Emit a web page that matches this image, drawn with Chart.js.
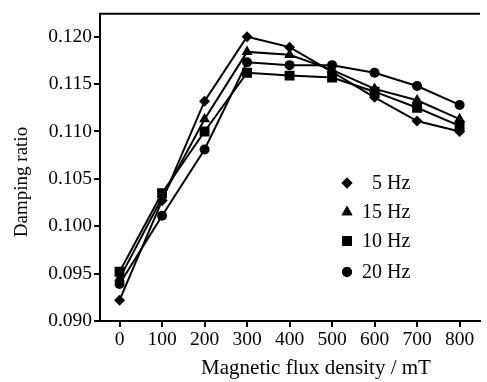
<!DOCTYPE html>
<html><head><meta charset="utf-8">
<script src="https://cdn.jsdelivr.net/npm/chart.js@4"></script>
<style>html,body{margin:0;padding:0;background:#fff;}#w{width:487px;height:382px;}</style>
</head><body><div id="w"><canvas id="c" width="487" height="382"></canvas></div>
<script>
const categories = [0, 100, 200, 300, 400, 500, 600, 700, 800];
const seriesNames = ['5 Hz', '15 Hz', '10 Hz', '20 Hz'];
const hz5  = [0.0922, 0.1027, 0.1132, 0.1200, 0.1189, 0.1163, 0.1136, 0.1111, 0.1100];
const hz15 = [0.0945, 0.1030, 0.1113, 0.1184, 0.1181, 0.1165, 0.1145, 0.1133, 0.1113];
const hz10 = [0.0952, 0.1035, 0.1100, 0.1162, 0.1159, 0.1157, 0.1142, 0.1125, 0.1106];
const hz20 = [0.0939, 0.1011, 0.1081, 0.1173, 0.1170, 0.1170, 0.1162, 0.1148, 0.1128];
const yTicks = [0.090, 0.095, 0.100, 0.105, 0.110, 0.115, 0.120];
const xTitle = 'Magnetic flux density / mT';
const yTitle = 'Damping ratio';

const FONT = '"Liberation Serif", "Times New Roman", serif';
const styles = ['rectRot', 'triangle', 'rect', 'circle'];
const radii = [5.5, 6.3, 7, 5];
const allSeries = [hz5, hz15, hz10, hz20];

const datasets = allSeries.map((s, i) => ({
  label: seriesNames[i],
  data: categories.map((x, j) => ({x: x, y: s[j]})),
  borderColor: '#000', backgroundColor: '#000', borderWidth: 2,
  pointStyle: styles[i], pointRadius: radii[i], pointBorderWidth: 0,
  pointBackgroundColor: '#000', tension: 0
}));

const deco = {
  id: 'deco',
  afterDraw(chart) {
    const ctx = chart.ctx, a = chart.chartArea;
    ctx.save();
    ctx.strokeStyle = '#000'; ctx.lineWidth = 2;
    ctx.beginPath(); ctx.moveTo(a.left - 1, a.top); ctx.lineTo(a.right, a.top); ctx.stroke();
    ctx.fillStyle = '#000';
    ctx.font = '21px ' + FONT;
    ctx.textAlign = 'center'; ctx.textBaseline = 'middle';
    ctx.fillText(xTitle, 316, 368);
    ctx.font = '19px ' + FONT;
    ctx.save(); ctx.translate(22, 182); ctx.rotate(-Math.PI / 2);
    ctx.fillText(yTitle, 0, 0); ctx.restore();
    // legend
    const rows = [183, 212, 241, 272];
    ctx.font = '20px ' + FONT;
    ctx.textAlign = 'left';
    datasets.forEach((d, i) => {
      const y = rows[i];
      Chart.helpers.drawPoint(ctx, {pointStyle: d.pointStyle, radius: d.pointRadius, borderWidth: 0}, 347, y);
      ctx.fill();
      ctx.fillText(i === 0 ? '\u2007' + d.label : d.label, 362, y + 1);
    });
    ctx.restore();
  }
};

new Chart(document.getElementById('c'), {
  type: 'line',
  data: {datasets},
  plugins: [deco],
  options: {
    responsive: false, animation: false,
    layout: {padding: {top: 10, right: 0, left: 0, bottom: 0}},
    plugins: {legend: {display: false}, tooltip: {enabled: false}},
    scales: {
      x: {
        type: 'linear', min: -46, max: 848,
        afterFit(s) { s.height = 61; },
        afterBuildTicks(s) { s.ticks = categories.map(v => ({value: v})); },
        grid: {display: true, drawOnChartArea: false, drawTicks: true, tickLength: 6, color: '#000', lineWidth: 2},
        border: {display: true, color: '#000', width: 2},
        ticks: {color: '#000', font: {family: FONT, size: 19.5}, padding: 1, maxRotation: 0}
      },
      y: {
        type: 'linear', min: 0.090, max: 0.12243,
        afterFit(s) { s.width = 100; },
        afterBuildTicks(s) { s.ticks = yTicks.map(v => ({value: v})); },
        grid: {display: true, drawOnChartArea: false, drawTicks: true, tickLength: 6, color: '#000', lineWidth: 2},
        border: {display: true, color: '#000', width: 2},
        ticks: {color: '#000', font: {family: FONT, size: 19.5}, padding: 2, callback: v => v.toFixed(3)}
      }
    }
  }
});
</script></body></html>
